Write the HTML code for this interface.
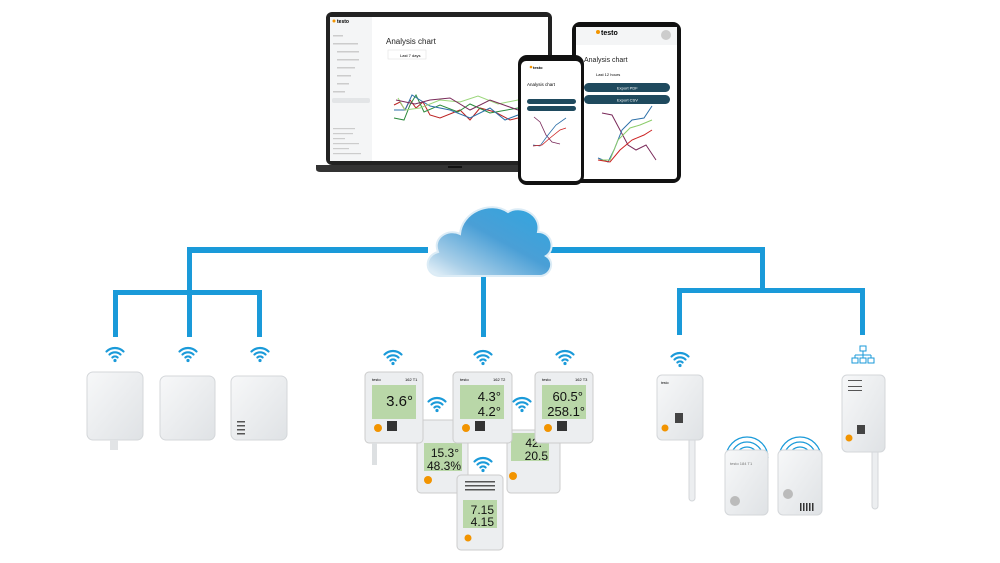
<!DOCTYPE html>
<html><head><meta charset="utf-8"><style>
html,body{margin:0;padding:0;background:#fff;width:1000px;height:563px;overflow:hidden}
svg{display:block}
text{font-family:"Liberation Sans",sans-serif}
.lcd{font-family:"Liberation Sans Narrow","Liberation Sans",sans-serif}
</style></head><body>
<svg width="1000" height="563" viewBox="0 0 1000 563" xmlns="http://www.w3.org/2000/svg">
<defs>
<symbol id="wifi" viewBox="-10 -10 20 16" overflow="visible">
<path d="M-8.5,-3.5 A12,12 0 0 1 8.5,-3.5" fill="none" stroke="#1a9ad9" stroke-width="2.2" stroke-linecap="round"/>
<path d="M-5.5,-0.5 A8,8 0 0 1 5.5,-0.5" fill="none" stroke="#1a9ad9" stroke-width="2.2" stroke-linecap="round"/>
<path d="M-2.6,2.4 A4,4 0 0 1 2.6,2.4" fill="none" stroke="#1a9ad9" stroke-width="2.2" stroke-linecap="round"/>
<circle cx="0" cy="5.5" r="1.6" fill="#1a9ad9"/>
</symbol>
<linearGradient id="cg" x1="1" y1="0" x2="0" y2="1">
<stop offset="0" stop-color="#2fa6e0"/><stop offset="0.45" stop-color="#4a9fd6"/><stop offset="0.8" stop-color="#a9cfe8"/><stop offset="1" stop-color="#eef6fb"/>
</linearGradient>
<linearGradient id="dev" x1="0" y1="0" x2="1" y2="1"><stop offset="0" stop-color="#f7f8f9"/><stop offset="1" stop-color="#dfe2e5"/></linearGradient>
</defs>

<g fill="#1a9ad9">
<rect x="187" y="247" width="241" height="6"/>
<rect x="540" y="247" width="225" height="6"/>
<rect x="187" y="247" width="5" height="90"/>
<rect x="113" y="290" width="149" height="5"/>
<rect x="113" y="290" width="5" height="47"/>
<rect x="257" y="290" width="5" height="47"/>
<rect x="481" y="275" width="5" height="62"/>
<rect x="760" y="247" width="5" height="45"/>
<rect x="677" y="288" width="188" height="5"/>
<rect x="677" y="288" width="5" height="47"/>
<rect x="860" y="288" width="5" height="47"/>
</g>

<path d="M440,276 C425,276 423,256 438,252 C432,238 448,228 460,234 C462,212 490,200 508,212 C520,204 542,214 538,232 C552,232 556,250 546,256 C556,262 550,276 540,276 Z" fill="url(#cg)" stroke="#dcecf6" stroke-width="2"/>

<rect x="326" y="12" width="226" height="153" rx="6" fill="#222"/>
<rect x="330" y="17" width="218" height="144" fill="#fff"/>
<rect x="330" y="17" width="42" height="144" fill="#f4f5f6"/>
<g fill="#ccc"><rect x="333" y="35" width="10" height="1.5"/><rect x="333" y="43" width="25" height="1.5"/><rect x="337" y="51" width="22" height="1.5"/><rect x="337" y="59" width="22" height="1.5"/><rect x="337" y="67" width="18" height="1.5"/><rect x="337" y="75" width="14" height="1.5"/><rect x="337" y="83" width="12" height="1.5"/><rect x="333" y="91" width="12" height="1.5"/><rect x="333" y="128" width="22" height="1.2"/><rect x="333" y="133" width="20" height="1.2"/><rect x="333" y="138" width="12" height="1.2"/><rect x="333" y="143" width="26" height="1.2"/><rect x="333" y="148" width="16" height="1.2"/><rect x="333" y="153" width="28" height="1.2"/></g>
<rect x="332" y="98" width="38" height="5" rx="2" fill="#e3e5e7"/>
<circle cx="334" cy="21" r="1.5" fill="#f29400"/>
<text x="337" y="23" font-size="5" font-weight="bold">testo</text>
<text x="386" y="44" font-size="8" fill="#222">Analysis chart</text>
<rect x="388" y="50" width="38" height="9" fill="#fff" stroke="#ddd" stroke-width="0.5"/>
<text x="400" y="57" font-size="4">Last 7 days</text>
<polyline points="394,105 400,102 405,110 410,100 416,108 423,102 430,115 440,118 460,110 470,120 480,108 495,112 510,120 518,118" fill="none" stroke="#b22" stroke-width="1"/>
<polyline points="394,118 404,120 410,105 416,95 424,112 440,105 458,112 470,104 490,113 518,108" fill="none" stroke="#2a8a3c" stroke-width="1"/>
<polyline points="394,110 405,110 412,95 420,100 430,106 450,110 470,118 490,108 505,120 518,115" fill="none" stroke="#2c6fa8" stroke-width="1"/>
<polyline points="398,98 405,110 420,108 440,100 460,102 478,96 498,104 518,100" fill="none" stroke="#9ad67a" stroke-width="1"/>
<polyline points="396,100 415,104 430,100 450,98 470,110 490,100 518,110" fill="none" stroke="#7a2a5a" stroke-width="1"/>
<path d="M316,165 H560 V169 Q560,172 555,172 H321 Q316,172 316,169 Z" fill="#333"/>
<rect x="448" y="166" width="14" height="2" fill="#111"/>

<rect x="572" y="22" width="109" height="161" rx="8" fill="#111"/>
<rect x="576" y="27" width="101" height="152" rx="3" fill="#fff"/>
<rect x="576" y="27" width="101" height="18" fill="#f4f5f6"/>
<circle cx="598" cy="32" r="2" fill="#f29400"/>
<text x="601" y="35" font-size="7" font-weight="bold">testo</text>
<circle cx="666" cy="35" r="5" fill="#ccc"/>
<text x="584" y="62" font-size="7" fill="#222">Analysis chart</text>
<text x="596" y="76" font-size="4">Last 12 hours</text>
<rect x="584" y="83" width="86" height="9" rx="4.5" fill="#1f4a5e"/>
<text x="617" y="89.5" font-size="4" fill="#fff">Export PDF</text>
<rect x="584" y="95" width="86" height="9" rx="4.5" fill="#1f4a5e"/>
<text x="617" y="101.5" font-size="4" fill="#fff">Export CSV</text>
<polyline points="602,113 612,115 620,130 628,145 636,150 646,145 656,160" fill="none" stroke="#7a2a5a" stroke-width="1"/>
<polyline points="598,158 608,162 614,150 622,130 632,120 644,118 652,106" fill="none" stroke="#2c6fa8" stroke-width="1"/>
<polyline points="598,160 610,160 618,140 630,128 640,125 652,120" fill="none" stroke="#8ccc6a" stroke-width="1"/>
<polyline points="598,160 610,162 620,150 632,140 644,135 652,130" fill="none" stroke="#c22" stroke-width="1"/>

<rect x="518" y="55" width="66" height="130" rx="9" fill="#111"/>
<rect x="521" y="61" width="60" height="120" rx="5" fill="#fff"/>
<circle cx="531" cy="67" r="1.3" fill="#f29400"/>
<text x="533" y="69" font-size="4" font-weight="bold">testo</text>
<text x="527" y="86" font-size="4.5">Analysis chart</text>
<rect x="527" y="99" width="49" height="5" rx="2.5" fill="#1f4a5e"/>
<rect x="527" y="106" width="49" height="5" rx="2.5" fill="#1f4a5e"/>
<polyline points="534,117 540,122 546,135 552,142 560,144" fill="none" stroke="#7a2a5a" stroke-width="0.8"/>
<polyline points="533,145 540,146 548,135 556,125 566,118" fill="none" stroke="#2c6fa8" stroke-width="0.8"/>
<polyline points="533,146 542,145 550,138 560,130 566,128" fill="none" stroke="#c22" stroke-width="0.8"/>

<use href="#wifi" x="105" y="345" width="20" height="16"/>
<use href="#wifi" x="178" y="345" width="20" height="16"/>
<use href="#wifi" x="250" y="345" width="20" height="16"/>
<rect x="87" y="372" width="56" height="68" rx="6" fill="url(#dev)" stroke="#d4d7da"/>
<rect x="110" y="440" width="8" height="10" fill="#e2e4e6"/>
<rect x="160" y="376" width="55" height="64" rx="6" fill="url(#dev)" stroke="#d4d7da"/>
<rect x="231" y="376" width="56" height="64" rx="6" fill="url(#dev)" stroke="#d4d7da"/>
<g fill="#555"><rect x="237" y="421" width="8" height="1.5"/><rect x="237" y="425" width="8" height="1.5"/><rect x="237" y="429" width="8" height="1.5"/><rect x="237" y="433" width="8" height="1.5"/></g>

<rect x="417" y="420" width="51" height="73" rx="4" fill="#eceef0" stroke="#ccc"/>
<rect x="424" y="443" width="38" height="28" fill="#b9d7a8"/>
<text class="lcd" x="459" y="457" font-size="12" text-anchor="end" fill="#111">15.3°</text>
<text class="lcd" x="461" y="470" font-size="12" text-anchor="end" fill="#111">48.3%</text>
<circle cx="428" cy="480" r="4" fill="#f29400"/>
<rect x="507" y="430" width="53" height="63" rx="4" fill="#eceef0" stroke="#ccc"/>
<rect x="511" y="433" width="38" height="28" fill="#b9d7a8"/>
<text class="lcd" x="542" y="447" font-size="12" text-anchor="end" fill="#111">42.</text>
<text class="lcd" x="548" y="460" font-size="12" text-anchor="end" fill="#111">20.5</text>
<circle cx="513" cy="476" r="4" fill="#f29400"/>
<rect x="365" y="372" width="58" height="71" rx="4" fill="#eceef0" stroke="#ccc"/>
<rect x="372" y="385" width="44" height="34" fill="#b9d7a8"/>
<text x="372" y="381" font-size="4">testo</text><text x="405" y="381" font-size="4">162 T1</text>
<text class="lcd" x="413" y="406" font-size="15" text-anchor="end" fill="#111">3.6°</text>
<circle cx="378" cy="428" r="4" fill="#f29400"/>
<rect x="387" y="421" width="10" height="10" fill="#333"/>
<rect x="372" y="443" width="5" height="22" fill="#dde0e2"/>
<rect x="453" y="372" width="59" height="71" rx="4" fill="#eceef0" stroke="#ccc"/>
<rect x="460" y="385" width="44" height="34" fill="#b9d7a8"/>
<text x="460" y="381" font-size="4">testo</text><text x="493" y="381" font-size="4">162 T2</text>
<text class="lcd" x="501" y="401" font-size="13" text-anchor="end" fill="#111">4.3°</text>
<text class="lcd" x="501" y="416" font-size="13" text-anchor="end" fill="#111">4.2°</text>
<circle cx="466" cy="428" r="4" fill="#f29400"/>
<rect x="475" y="421" width="10" height="10" fill="#333"/>
<rect x="535" y="372" width="58" height="71" rx="4" fill="#eceef0" stroke="#ccc"/>
<rect x="542" y="385" width="44" height="34" fill="#b9d7a8"/>
<text x="542" y="381" font-size="4">testo</text><text x="575" y="381" font-size="4">162 T3</text>
<text class="lcd" x="583" y="401" font-size="13" text-anchor="end" fill="#111">60.5°</text>
<text class="lcd" x="585" y="416" font-size="13" text-anchor="end" fill="#111">258.1°</text>
<circle cx="548" cy="428" r="4" fill="#f29400"/>
<rect x="557" y="421" width="10" height="10" fill="#333"/>
<rect x="457" y="475" width="46" height="75" rx="4" fill="#eceef0" stroke="#ccc"/>
<g fill="#555"><rect x="465" y="481" width="30" height="1.5"/><rect x="465" y="485" width="30" height="1.5"/><rect x="465" y="489" width="30" height="1.5"/></g>
<rect x="463" y="500" width="34" height="28" fill="#b9d7a8"/>
<text class="lcd" x="494" y="514" font-size="12" text-anchor="end" fill="#111">7.15</text>
<text class="lcd" x="494" y="526" font-size="12" text-anchor="end" fill="#111">4.15</text>
<circle cx="468" cy="538" r="3.5" fill="#f29400"/>
<use href="#wifi" x="383" y="348" width="20" height="16"/>
<use href="#wifi" x="473" y="348" width="20" height="16"/>
<use href="#wifi" x="555" y="348" width="20" height="16"/>
<use href="#wifi" x="427" y="395" width="20" height="16"/>
<use href="#wifi" x="512" y="395" width="20" height="16"/>
<use href="#wifi" x="473" y="455" width="20" height="16"/>

<use href="#wifi" x="670" y="350" width="20" height="16"/>
<rect x="689" y="435" width="6" height="66" rx="3" fill="#eceef0" stroke="#d4d7da"/>
<rect x="657" y="375" width="46" height="65" rx="5" fill="url(#dev)" stroke="#d4d7da"/>
<text x="661" y="384" font-size="3.5">testo</text>
<circle cx="665" cy="428" r="3.5" fill="#f29400"/>
<rect x="675" y="413" width="8" height="10" fill="#444"/>
<g fill="none" stroke="#1a9ad9" stroke-width="1.3">
<path d="M726,458 A21,21 0 1 1 768,458"/><path d="M731,458 A16,16 0 1 1 763,458"/><path d="M736,458 A11,11 0 1 1 758,458"/>
<path d="M779,458 A21,21 0 1 1 821,458"/><path d="M784,458 A16,16 0 1 1 816,458"/><path d="M789,458 A11,11 0 1 1 811,458"/>
</g>
<rect x="725" y="450" width="43" height="65" rx="5" fill="url(#dev)" stroke="#d4d7da"/>
<text x="730" y="465" font-size="4" fill="#777">testo 184 T1</text>
<circle cx="735" cy="501" r="5" fill="#bbb"/>
<rect x="778" y="450" width="44" height="65" rx="5" fill="url(#dev)" stroke="#d4d7da"/>
<circle cx="788" cy="494" r="5" fill="#bbb"/>
<g fill="#333"><rect x="800" y="503" width="1.5" height="8"/><rect x="803" y="503" width="1.5" height="8"/><rect x="806" y="503" width="1.5" height="8"/><rect x="809" y="503" width="1.5" height="8"/><rect x="812" y="503" width="1.5" height="8"/></g>
<g fill="none" stroke="#1a9ad9" stroke-width="1">
<rect x="860" y="346" width="6" height="5"/><path d="M863,351 V355 M855,355 H871 M855,355 V358 M863,355 V358 M871,355 V358"/>
<rect x="852" y="358" width="6" height="5"/><rect x="860" y="358" width="6" height="5"/><rect x="868" y="358" width="6" height="5"/>
</g>
<rect x="872" y="445" width="6" height="64" rx="3" fill="#eceef0" stroke="#d4d7da"/>
<rect x="842" y="375" width="43" height="77" rx="5" fill="url(#dev)" stroke="#d4d7da"/>
<g fill="#555"><rect x="848" y="380" width="14" height="1"/><rect x="848" y="386" width="14" height="1"/><rect x="848" y="390" width="14" height="1"/></g>
<circle cx="849" cy="438" r="3.5" fill="#f29400"/>
<rect x="857" y="425" width="8" height="9" fill="#444"/>
</svg>
</body></html>
